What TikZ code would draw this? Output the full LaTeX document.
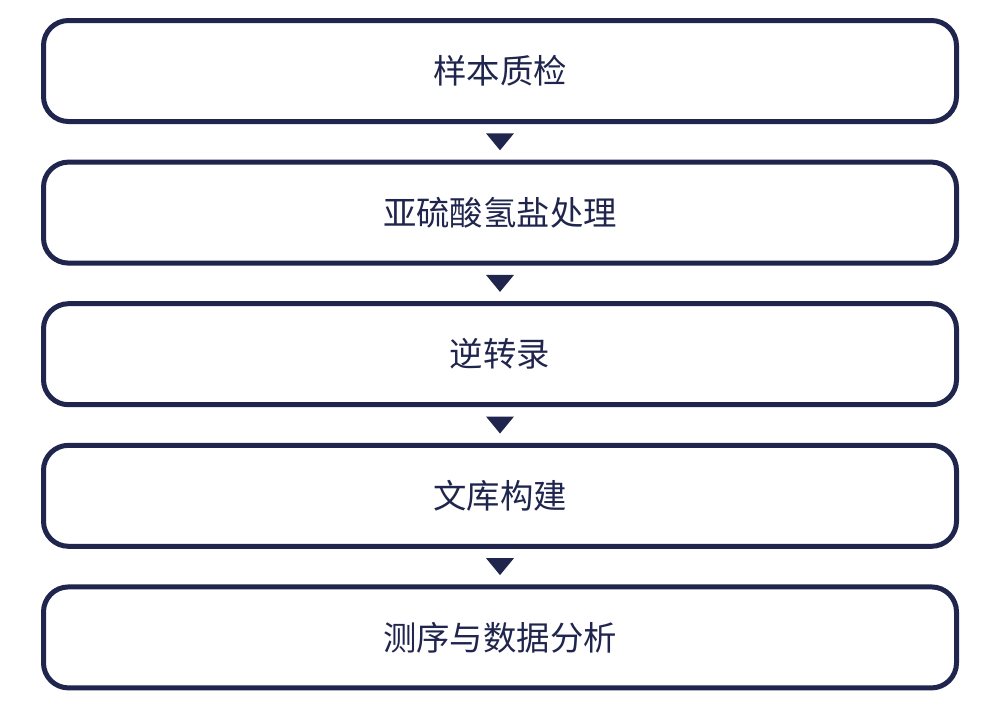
\documentclass[tikz,border=0pt]{standalone}
\usepackage{fontspec}
\newfontfamily\cjk{Noto Sans CJK SC}
\usetikzlibrary{positioning, calc}
\definecolor{navy}{RGB}{31,37,77}

\begin{document}
\begin{tikzpicture}[node distance=0.812cm,
    stage/.style={draw=navy, line width=0.1cm, rounded corners=0.5cm,
        minimum width=18.26cm, minimum height=2.02cm, inner sep=0pt, outer sep=0pt,
        text=navy, font=\cjk\fontsize{19}{23}\selectfont}]
    \useasboundingbox (0,0) rectangle (20,-14.16);
    \node[stage] (1) at (10,-1.42) {样本质检};
    \node[stage] (2) [below=of 1] {亚硫酸氢盐处理};
    \node[stage] (3) [below=of 2] {逆转录};
    \node[stage] (4) [below=of 3] {文库构建};
    \node[stage] (5) [below=of 4] {测序与数据分析};
    % down triangles between the stages
    \foreach \a/\b in {1/2, 2/3, 3/4, 4/5} {
        \coordinate (m\a) at ($(\a.south)!0.5!(\b.north)$);
        \fill[navy] ($(m\a)+(-0.28,0.17)$) -- ($(m\a)+(0.28,0.17)$) -- ($(m\a)+(0,-0.17)$) -- cycle;
    }
\end{tikzpicture}
\end{document}
